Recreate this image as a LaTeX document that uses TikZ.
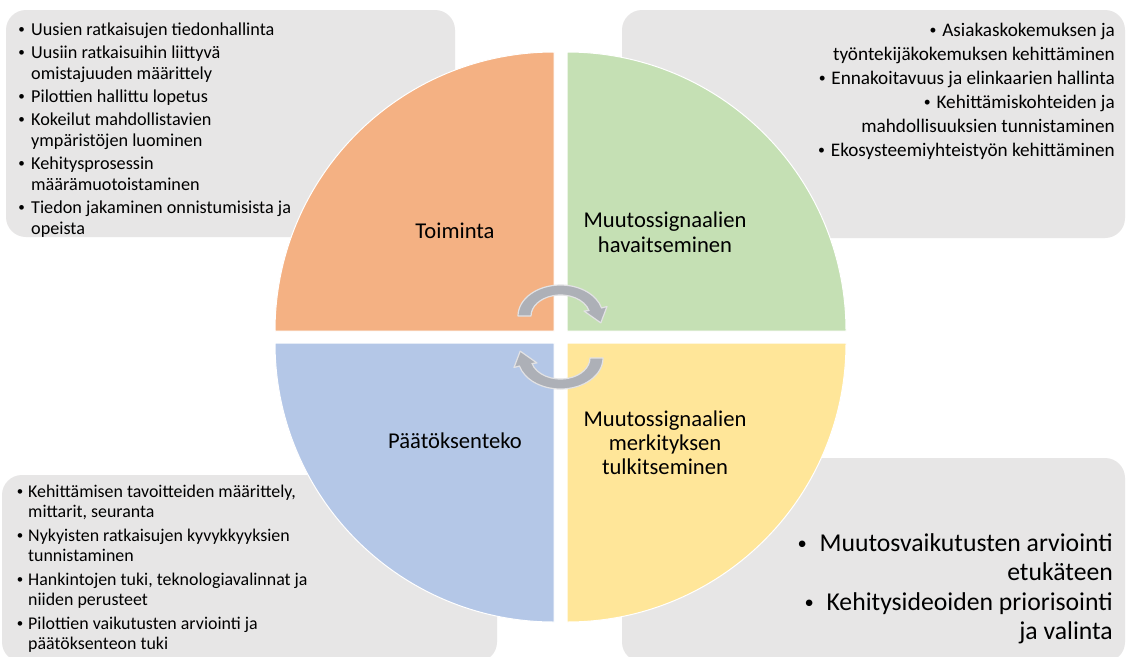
\documentclass[tikz,border=0pt]{standalone}
\usepackage{graphicx}
\usepackage{fontspec}
\setmainfont{Carlito}

\definecolor{boxgray}{HTML}{E7E6E6}
\definecolor{qorange}{HTML}{F4B183}
\definecolor{qgreen}{HTML}{C5E0B4}
\definecolor{qblue}{HTML}{B4C7E7}
\definecolor{qyellow}{HTML}{FFE699}
\definecolor{cyclegray}{HTML}{ADB0B7}
\definecolor{cycleedge}{HTML}{E2E2E4}

% a small bullet sitting on the middle of the x-height
\newcommand\bul{\raisebox{0.07em}{\scalebox{0.72}{•}}}
% bullet item whose bullet hangs left of the text start
\newcommand\hitem[2][19pt]{\leavevmode\llap{\makebox[#1][c]{\bul}}#2\par}

\tikzset{
  panel/.style={fill=boxgray, rounded corners=20},
  quarter/.style={draw=white, line width=1},
  cyclearrow/.style={fill=cyclegray, draw=cycleedge, line width=1.2, line join=round},
  txt/.style={inner sep=0, text=black},
  label/.style={txt, font=\fontsize{22.6}{25}\selectfont},
}

\begin{document}
\begin{tikzpicture}[x=1pt, y=1pt]
  \useasboundingbox (0,0) rectangle (1126,-656);
  \fill[white] (0,0) rectangle (1126,-656);

  % grey text panels
  \path[panel] (6,-10) rectangle (455,-237);
  \path[panel] (622,-10) rectangle (1125,-238);
  \path[panel] (2,-475) rectangle (497,-662);
  \path[panel] (622,-458) rectangle (1125,-662);

  % the four quarters of the circle
  \fill[qorange, quarter] (554,-331) -- (275,-331) arc[start angle=180, end angle=90, radius=279] -- cycle;
  \fill[qgreen, quarter] (567,-331) -- (567,-52) arc[start angle=90, end angle=0, radius=279] -- cycle;
  \fill[qblue, quarter] (554,-343) -- (275,-343) arc[start angle=180, end angle=270, radius=279] -- cycle;
  \fill[qyellow, quarter] (567,-343) -- (846,-343) arc[start angle=0, end angle=-90, radius=279] -- cycle;

  % circular arrows in the middle
  \begin{scope}[shift={(560.5,-316)}]
    \path[cyclearrow] (180:42.5 and 31) arc[start angle=180, end angle=15, x radius=42.5, y radius=31]
      -- (46.5,9.5) -- (40.3,-6.9) -- (23.5,5)
      -- (15:29.5 and 21) arc[start angle=15, end angle=180, x radius=29.5, y radius=21] -- cycle;
  \end{scope}
  \begin{scope}[shift={(560.5,-358)}]
    \path[cyclearrow] (0:42.5 and 31) arc[start angle=0, end angle=-165, x radius=42.5, y radius=31]
      -- (-46.5,-9.5) -- (-40.3,6.9) -- (-23.5,-5)
      -- (-165:29.5 and 21) arc[start angle=-165, end angle=0, x radius=29.5, y radius=21] -- cycle;
  \end{scope}

  % quarter labels
  \node[label, anchor=base] (toiminta) at (455,-238) {Toiminta};
  \node[label, anchor=base] (havaitseminen) at (665,-227)
    {\parbox[t]{220pt}{\centering\fontsize{22.6}{25}\selectfont Muutossignaalien\\havaitseminen}};
  \node[label, anchor=base] (paatoksenteko) at (455,-448) {Päätöksenteko};
  \node[label, anchor=base] (tulkitseminen) at (665,-426)
    {\parbox[t]{220pt}{\centering\fontsize{22.6}{24}\selectfont Muutossignaalien\\merkityksen\\tulkitseminen}};

  % panel texts
  \node[txt, anchor=base west] (toimintalist) at (31,-35)
    {\parbox[t]{300pt}{\fontsize{18.2}{21}\selectfont\raggedright\setlength\parskip{2pt}%
      \hitem{Uusien ratkaisujen tiedonhallinta}
      \hitem{Uusiin ratkaisuihin liittyvä\\omistajuuden määrittely}
      \hitem{Pilottien hallittu lopetus}
      \hitem{Kokeilut mahdollistavien\\ympäristöjen luominen}
      \hitem{Kehitysprosessin\\määrämuotoistaminen}
      \hitem{Tiedon jakaminen onnistumisista ja\\opeista}}};

  \node[txt, anchor=base east] (havaitsemislist) at (1115,-36)
    {\parbox[t]{360pt}{\fontsize{19.2}{24}\selectfont\raggedleft
      \bul\hspace{0.3em}Asiakaskokemuksen ja\\työntekijäkokemuksen kehittäminen\par
      \bul\hspace{0.3em}Ennakoitavuus ja elinkaarien hallinta\par
      \bul\hspace{0.3em}Kehittämiskohteiden ja\\mahdollisuuksien tunnistaminen\par
      \bul\hspace{0.3em}Ekosysteemiyhteistyön kehittäminen\par}};

  \node[txt, anchor=base west] (paatoslist) at (28,-497)
    {\parbox[t]{320pt}{\fontsize{17.9}{20.8}\selectfont\raggedright\setlength\parskip{2.4pt}%
      \hitem[16pt]{Kehittämisen tavoitteiden määrittely,\\mittarit, seuranta}
      \hitem[16pt]{Nykyisten ratkaisujen kyvykkyyksien\\tunnistaminen}
      \hitem[16pt]{Hankintojen tuki, teknologiavalinnat ja\\niiden perusteet}
      \hitem[16pt]{Pilottien vaikutusten arviointi ja\\päätöksenteon tuki}}};

  \node[txt, anchor=base east] (tulkintalist) at (1113,-551)
    {\parbox[t]{360pt}{\fontsize{25.7}{29}\selectfont\raggedleft\setlength\parskip{1pt}%
      \bul\hspace{0.5em}Muutosvaikutusten arviointi\\etukäteen\par
      \bul\hspace{0.5em}Kehitysideoiden priorisointi\\ja valinta\par}};
\end{tikzpicture}
\end{document}
